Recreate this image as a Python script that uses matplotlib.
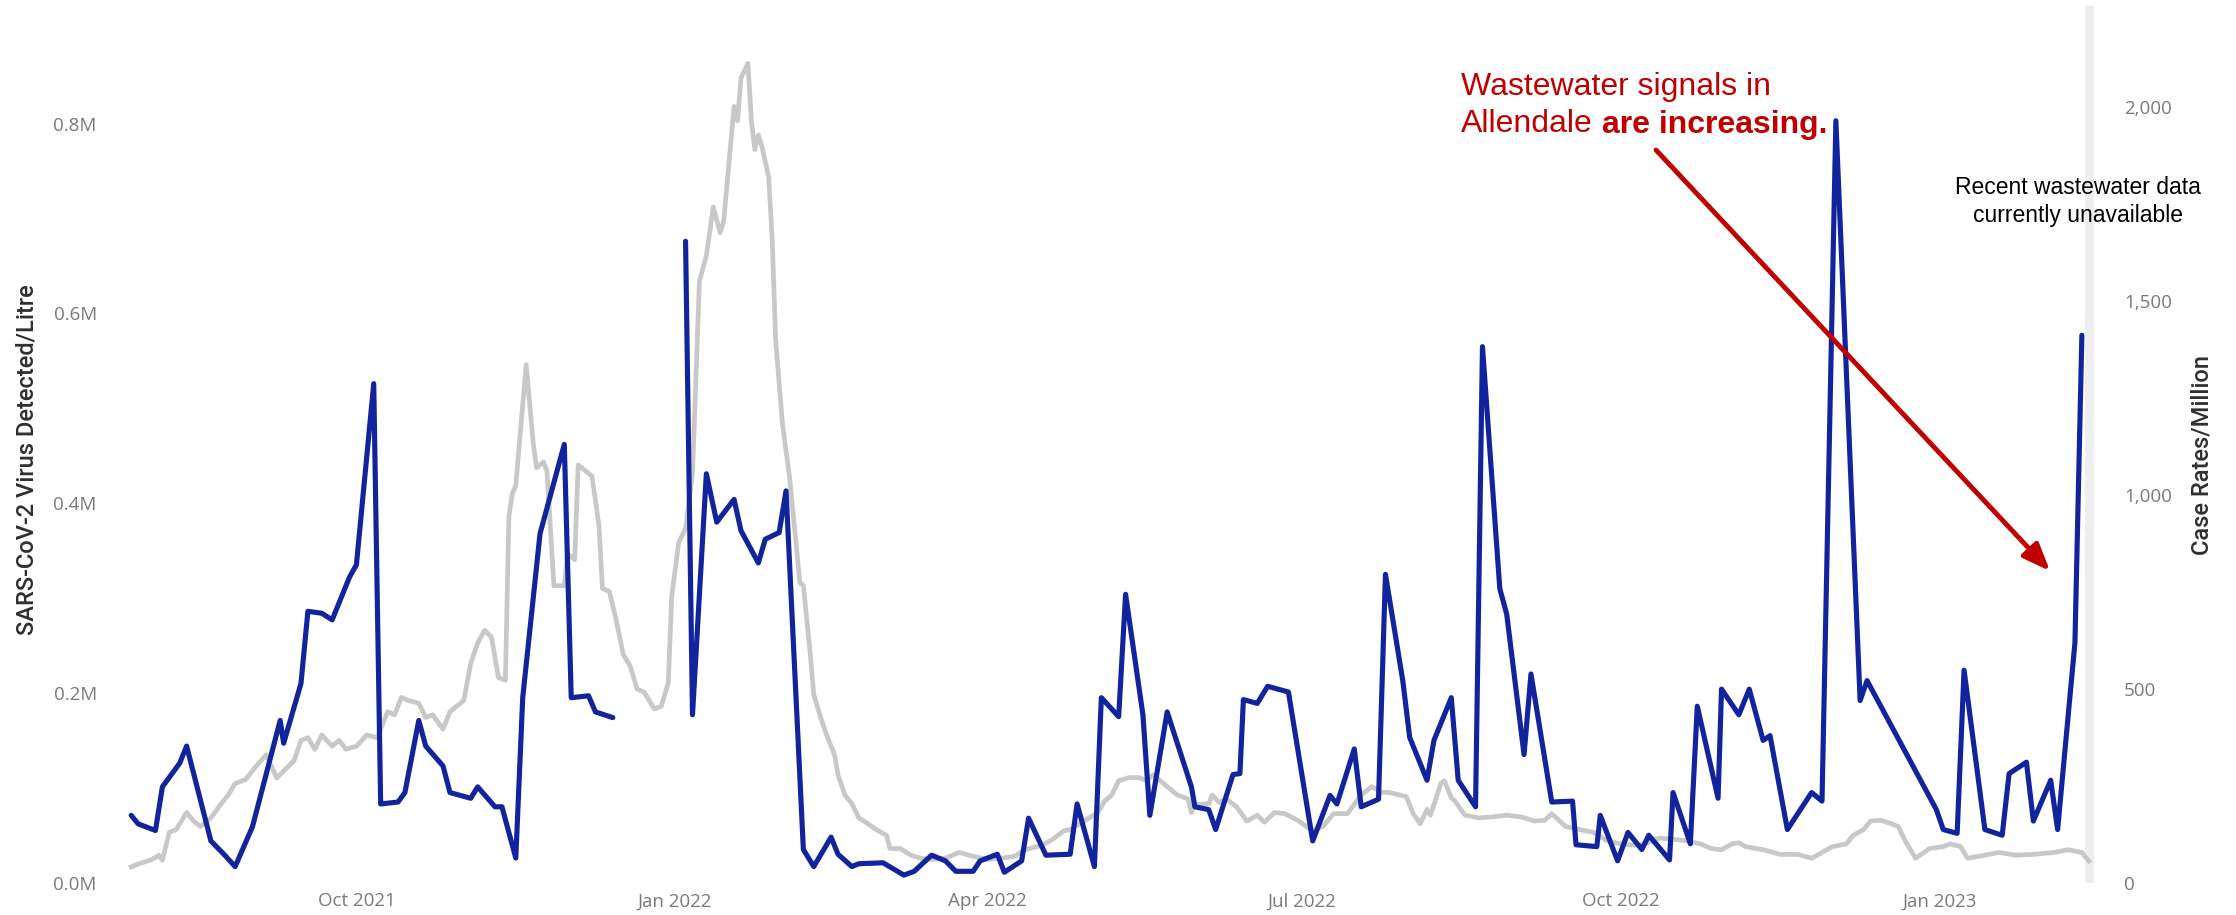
import numpy as np
import pandas as pd
import matplotlib
matplotlib.use("Agg")
import matplotlib.pyplot as plt
import matplotlib.dates as mdates
import matplotlib.patheffects as pe
from matplotlib.ticker import FuncFormatter

# SARS-CoV-2 copies per litre (millions), sampled roughly twice a week
ww_dates = [
    "2021-07-28", "2021-07-30", "2021-08-04", "2021-08-06", "2021-08-11", "2021-08-13", "2021-08-20", "2021-08-24", "2021-08-27", "2021-09-01",
    "2021-09-09", "2021-09-10", "2021-09-15", "2021-09-17", "2021-09-21", "2021-09-24", "2021-09-29", "2021-10-01", "2021-10-06", "2021-10-08",
    "2021-10-13", "2021-10-15", "2021-10-19", "2021-10-21", "2021-10-26", "2021-10-28", "2021-11-03", "2021-11-05", "2021-11-10", "2021-11-12",
    "2021-11-16", "2021-11-18", "2021-11-23", "2021-11-30", "2021-12-02", "2021-12-07", "2021-12-09", "2021-12-14",
    "2021-12-24",
    "2022-01-04", "2022-01-06", "2022-01-10", "2022-01-13", "2022-01-18", "2022-01-20", "2022-01-25", "2022-01-27", "2022-01-31", "2022-02-02",
    "2022-02-07", "2022-02-10", "2022-02-15", "2022-02-17", "2022-02-21", "2022-02-23", "2022-03-02", "2022-03-08", "2022-03-11", "2022-03-16",
    "2022-03-20", "2022-03-23", "2022-03-28", "2022-03-30", "2022-04-04", "2022-04-06", "2022-04-11", "2022-04-13", "2022-04-18", "2022-04-25",
    "2022-04-27", "2022-05-02", "2022-05-04", "2022-05-09", "2022-05-11", "2022-05-16", "2022-05-18", "2022-05-23", "2022-05-30", "2022-05-31",
    "2022-06-04", "2022-06-06", "2022-06-11", "2022-06-13", "2022-06-14", "2022-06-18", "2022-06-21", "2022-06-27", "2022-07-04", "2022-07-09",
    "2022-07-11", "2022-07-16", "2022-07-18", "2022-07-23", "2022-07-25", "2022-07-30", "2022-08-01", "2022-08-06", "2022-08-08", "2022-08-13",
    "2022-08-15", "2022-08-20", "2022-08-22", "2022-08-27", "2022-08-29", "2022-09-03", "2022-09-05", "2022-09-11", "2022-09-17", "2022-09-18",
    "2022-09-24", "2022-09-25", "2022-09-30", "2022-10-03", "2022-10-07", "2022-10-09", "2022-10-15", "2022-10-16", "2022-10-21", "2022-10-23",
    "2022-10-29", "2022-10-30", "2022-11-04", "2022-11-07", "2022-11-11", "2022-11-13", "2022-11-18", "2022-11-25", "2022-11-28", "2022-12-02",
    "2022-12-09", "2022-12-11", "2022-12-31", "2023-01-02", "2023-01-06", "2023-01-08", "2023-01-14", "2023-01-19", "2023-01-21", "2023-01-26",
    "2023-01-28", "2023-02-02", "2023-02-04", "2023-02-09", "2023-02-11",
]
ww_million = [
    0.071, 0.062, 0.055, 0.101, 0.126, 0.144, 0.044, 0.029, 0.017, 0.059,
    0.171, 0.147, 0.210, 0.286, 0.284, 0.277, 0.322, 0.335, 0.526, 0.083,
    0.085, 0.095, 0.171, 0.144, 0.123, 0.095, 0.089, 0.101, 0.080, 0.080,
    0.026, 0.195, 0.368, 0.462, 0.195, 0.197, 0.180, 0.174,
    None,  # no samples over the holidays
    0.676, 0.177, 0.431, 0.380, 0.404, 0.371, 0.337, 0.362, 0.369, 0.413,
    0.035, 0.017, 0.048, 0.030, 0.017, 0.020, 0.021, 0.008, 0.012, 0.029,
    0.023, 0.012, 0.012, 0.023, 0.030, 0.011, 0.023, 0.068, 0.029, 0.030,
    0.083, 0.017, 0.195, 0.175, 0.304, 0.177, 0.071, 0.180, 0.101, 0.080,
    0.077, 0.056, 0.114, 0.115, 0.193, 0.189, 0.207, 0.201, 0.044, 0.092,
    0.083, 0.141, 0.080, 0.088, 0.325, 0.213, 0.153, 0.108, 0.150, 0.195,
    0.108, 0.080, 0.565, 0.310, 0.283, 0.135, 0.220, 0.085, 0.086, 0.040,
    0.038, 0.071, 0.023, 0.053, 0.035, 0.050, 0.024, 0.095, 0.041, 0.186,
    0.089, 0.204, 0.177, 0.204, 0.150, 0.155, 0.056, 0.095, 0.086, 0.803,
    0.192, 0.213, 0.077, 0.056, 0.052, 0.224, 0.056, 0.050, 0.115, 0.127,
    0.065, 0.108, 0.056, 0.253, 0.577,
]

# case rate per million (daily series, read every few days)
case_dates = [
    "2021-07-28", "2021-07-30", "2021-08-03", "2021-08-05", "2021-08-06", "2021-08-08", "2021-08-10", "2021-08-13", "2021-08-15", "2021-08-17",
    "2021-08-20", "2021-08-23", "2021-08-25", "2021-08-27", "2021-08-30", "2021-09-02", "2021-09-05", "2021-09-08", "2021-09-13", "2021-09-15",
    "2021-09-17", "2021-09-19", "2021-09-21", "2021-09-24", "2021-09-26", "2021-09-28", "2021-10-01", "2021-10-04", "2021-10-07", "2021-10-10",
    "2021-10-12", "2021-10-14", "2021-10-16", "2021-10-19", "2021-10-21", "2021-10-23", "2021-10-26", "2021-10-28", "2021-10-31", "2021-11-01",
    "2021-11-03", "2021-11-05", "2021-11-07", "2021-11-09", "2021-11-11", "2021-11-13", "2021-11-14", "2021-11-15", "2021-11-16", "2021-11-19",
    "2021-11-21", "2021-11-22", "2021-11-24", "2021-11-25", "2021-11-27", "2021-11-30", "2021-12-01", "2021-12-03", "2021-12-04", "2021-12-05",
    "2021-12-08", "2021-12-10", "2021-12-11", "2021-12-13", "2021-12-15", "2021-12-17", "2021-12-19", "2021-12-21", "2021-12-23", "2021-12-26",
    "2021-12-28", "2021-12-30", "2021-12-31", "2022-01-02", "2022-01-04", "2022-01-06", "2022-01-08", "2022-01-10", "2022-01-12", "2022-01-14",
    "2022-01-15", "2022-01-18", "2022-01-19", "2022-01-20", "2022-01-22", "2022-01-23", "2022-01-24", "2022-01-25", "2022-01-26", "2022-01-28",
    "2022-01-29", "2022-01-30", "2022-02-01", "2022-02-03", "2022-02-06", "2022-02-07", "2022-02-09", "2022-02-10", "2022-02-12", "2022-02-14",
    "2022-02-16", "2022-02-17", "2022-02-19", "2022-02-21", "2022-02-23", "2022-02-25", "2022-02-28", "2022-03-03", "2022-03-04", "2022-03-07",
    "2022-03-10", "2022-03-13", "2022-03-16", "2022-03-20", "2022-03-24", "2022-03-28", "2022-04-01", "2022-04-05", "2022-04-09", "2022-04-12",
    "2022-04-17", "2022-04-20", "2022-04-23", "2022-04-25", "2022-04-29", "2022-05-03", "2022-05-05", "2022-05-07", "2022-05-09", "2022-05-12",
    "2022-05-15", "2022-05-17", "2022-05-19", "2022-05-23", "2022-05-26", "2022-05-29", "2022-05-30", "2022-05-31", "2022-06-04", "2022-06-05",
    "2022-06-07", "2022-06-09", "2022-06-12", "2022-06-15", "2022-06-18", "2022-06-20", "2022-06-23", "2022-06-26", "2022-06-30", "2022-07-04",
    "2022-07-07", "2022-07-10", "2022-07-14", "2022-07-18", "2022-07-21", "2022-07-24", "2022-07-26", "2022-07-31", "2022-08-02", "2022-08-04",
    "2022-08-06", "2022-08-07", "2022-08-10", "2022-08-11", "2022-08-13", "2022-08-14", "2022-08-17", "2022-08-21", "2022-08-25", "2022-08-29",
    "2022-09-02", "2022-09-06", "2022-09-09", "2022-09-11", "2022-09-15", "2022-09-19", "2022-09-23", "2022-09-27", "2022-10-01", "2022-10-04",
    "2022-10-08", "2022-10-12", "2022-10-16", "2022-10-20", "2022-10-24", "2022-10-27", "2022-10-30", "2022-11-02", "2022-11-04", "2022-11-06",
    "2022-11-11", "2022-11-16", "2022-11-21", "2022-11-25", "2022-11-28", "2022-12-01", "2022-12-05", "2022-12-07", "2022-12-10", "2022-12-12",
    "2022-12-15", "2022-12-18", "2022-12-20", "2022-12-22", "2022-12-25", "2022-12-29", "2023-01-02", "2023-01-04", "2023-01-07", "2023-01-09",
    "2023-01-14", "2023-01-18", "2023-01-23", "2023-01-28", "2023-02-03", "2023-02-07", "2023-02-11", "2023-02-13",
]
case_rate = [
    41, 48, 60, 71, 58, 130, 137, 181, 159, 145,
    167, 204, 226, 256, 266, 300, 330, 270, 315, 367,
    374, 344, 381, 352, 367, 344, 352, 381, 374, 441,
    433, 478, 470, 463, 426, 433, 396, 441, 463, 470,
    566, 618, 651, 633, 529, 522, 944, 1003, 1025, 1336,
    1136, 1070, 1085, 1062, 766, 766, 848, 833, 1077, 1070,
    1048, 922, 759, 751, 677, 589, 559, 500, 492, 448,
    455, 515, 737, 877, 914, 1055, 1551, 1617, 1743, 1676,
    1706, 2002, 1965, 2076, 2113, 1965, 1891, 1928, 1900, 1820,
    1660, 1400, 1180, 1047, 774, 766, 589, 485, 426, 374,
    330, 278, 226, 204, 167, 156, 137, 122, 88, 88,
    71, 63, 60, 63, 78, 68, 60, 63, 68, 85,
    97, 112, 133, 137, 159, 181, 211, 226, 263, 271,
    271, 263, 278, 248, 226, 216, 181, 201, 204, 226,
    207, 216, 196, 159, 174, 156, 181, 178, 159, 133,
    145, 178, 178, 226, 248, 233, 233, 222, 178, 152,
    189, 174, 256, 263, 219, 211, 174, 167, 170, 174,
    170, 159, 161, 178, 145, 137, 130, 108, 100, 97,
    100, 115, 112, 108, 100, 88, 85, 100, 103, 93,
    85, 73, 73, 63, 78, 93, 100, 122, 137, 159,
    161, 152, 145, 108, 63, 88, 93, 100, 93, 63,
    71, 78, 71, 73, 78, 85, 78, 56,
]

x_start, x_end = "2021-07-26 12:00", "2023-02-14 12:00"
no_data_from = "2023-02-11 20:00"

BLUE = "#12239E"
GREY = "#C8C8C8"
RED = "#C00000"
TICK = "#7a7a7a"

plt.rcParams["font.family"] = ["Open Sans", "DejaVu Sans"]

ww = pd.Series(ww_million, index=pd.to_datetime(ww_dates), dtype=float)
cases = pd.Series(case_rate, index=pd.to_datetime(case_dates), dtype=float)

W, H = 2236, 915
fig = plt.figure(figsize=(W / 100, H / 100), dpi=100)
ax = fig.add_axes([126 / W, 1 - 882.7 / H, (2094 - 126) / W, (882.7 - 6) / H])
ax2 = ax.twinx()
# blue on top of the grey case line
ax.set_zorder(ax2.get_zorder() + 1)
ax.patch.set_visible(False)

ax2.axvspan(pd.Timestamp(no_data_from), pd.Timestamp(x_end), color="#EEEEEE", lw=0, zorder=0)
ax2.plot(cases.index, cases.values, color=GREY, lw=3.4, solid_joinstyle="round", zorder=2)
ax.plot(ww.index, ww.values, color=BLUE, lw=3.7, solid_joinstyle="round", solid_capstyle="round")

ax.set_xlim(pd.Timestamp(x_start), pd.Timestamp(x_end))
ax.set_ylim(0, 0.924)
ax2.set_ylim(0, 2261)

ax.xaxis.set_major_locator(mdates.MonthLocator(bymonth=[1, 4, 7, 10]))
ax.xaxis.set_major_formatter(mdates.DateFormatter("%b %Y"))
ax.set_yticks(np.arange(0, 0.81, 0.2))
ax.yaxis.set_major_formatter(FuncFormatter(lambda v, _: f"{v:.1f}M"))
ax2.set_yticks([0, 500, 1000, 1500, 2000])
ax2.yaxis.set_major_formatter(FuncFormatter(lambda v, _: f"{v:,.0f}"))

ax.tick_params(axis="x", length=0, pad=7, labelsize=13.5, labelcolor=TICK)
ax.tick_params(axis="y", length=0, pad=21, labelsize=13.5, labelcolor=TICK)
ax2.tick_params(axis="y", length=0, pad=21.5, labelsize=13.5, labelcolor=TICK)
for a in (ax, ax2):
    for s in a.spines.values():
        s.set_visible(False)

fig.text(27 / W, 1 - 460 / H, "SARS-CoV-2 Virus Detected/Litre", rotation=90,
         ha="center", va="center", fontsize=17, fontweight="medium", color="#2f2f2f",
         family=["Roboto", "DejaVu Sans"])
fig.text(2202 / W, 1 - 455 / H, "Case Rates/Million", rotation=90,
         ha="center", va="center", fontsize=17, fontweight="medium", color="#2f2f2f",
         family=["Roboto", "DejaVu Sans"])

# callout
arial = ["Liberation Sans", "DejaVu Sans"]
fig.text(1461 / W, 1 - 95 / H, "Wastewater signals in", ha="left", va="baseline",
         fontsize=23, color=RED, family=arial)
t2 = fig.text(1461 / W, 1 - 132.5 / H, "Allendale", ha="left", va="baseline",
              fontsize=23, color=RED, family=arial)
ax.annotate("are increasing.", xy=(1, 0), xycoords=t2, xytext=(6.4, 0), textcoords="offset points",
            ha="left", va="bottom", fontsize=23, fontweight="bold", color=RED, family=arial)

arrow = ax.annotate("", xy=(2050 / W, 1 - 571 / H), xycoords="figure fraction",
                    xytext=(1656 / W, 1 - 150 / H), textcoords="figure fraction",
                    arrowprops=dict(arrowstyle="-|>,head_length=0.55,head_width=0.22",
                                    mutation_scale=30, color=RED, lw=3.5, shrinkA=0, shrinkB=0))
arrow.arrow_patch.set_path_effects([pe.SimplePatchShadow(offset=(1.5, -1.5), alpha=0.35), pe.Normal()])

fig.text(2078 / W, 1 - 194.5 / H, "Recent wastewater data", ha="center", va="baseline",
         fontsize=16.5, color="black", family=arial)
fig.text(2078 / W, 1 - 222 / H, "currently unavailable", ha="center", va="baseline",
         fontsize=16.5, color="black", family=arial)

fig.savefig("out.png", dpi=100)
